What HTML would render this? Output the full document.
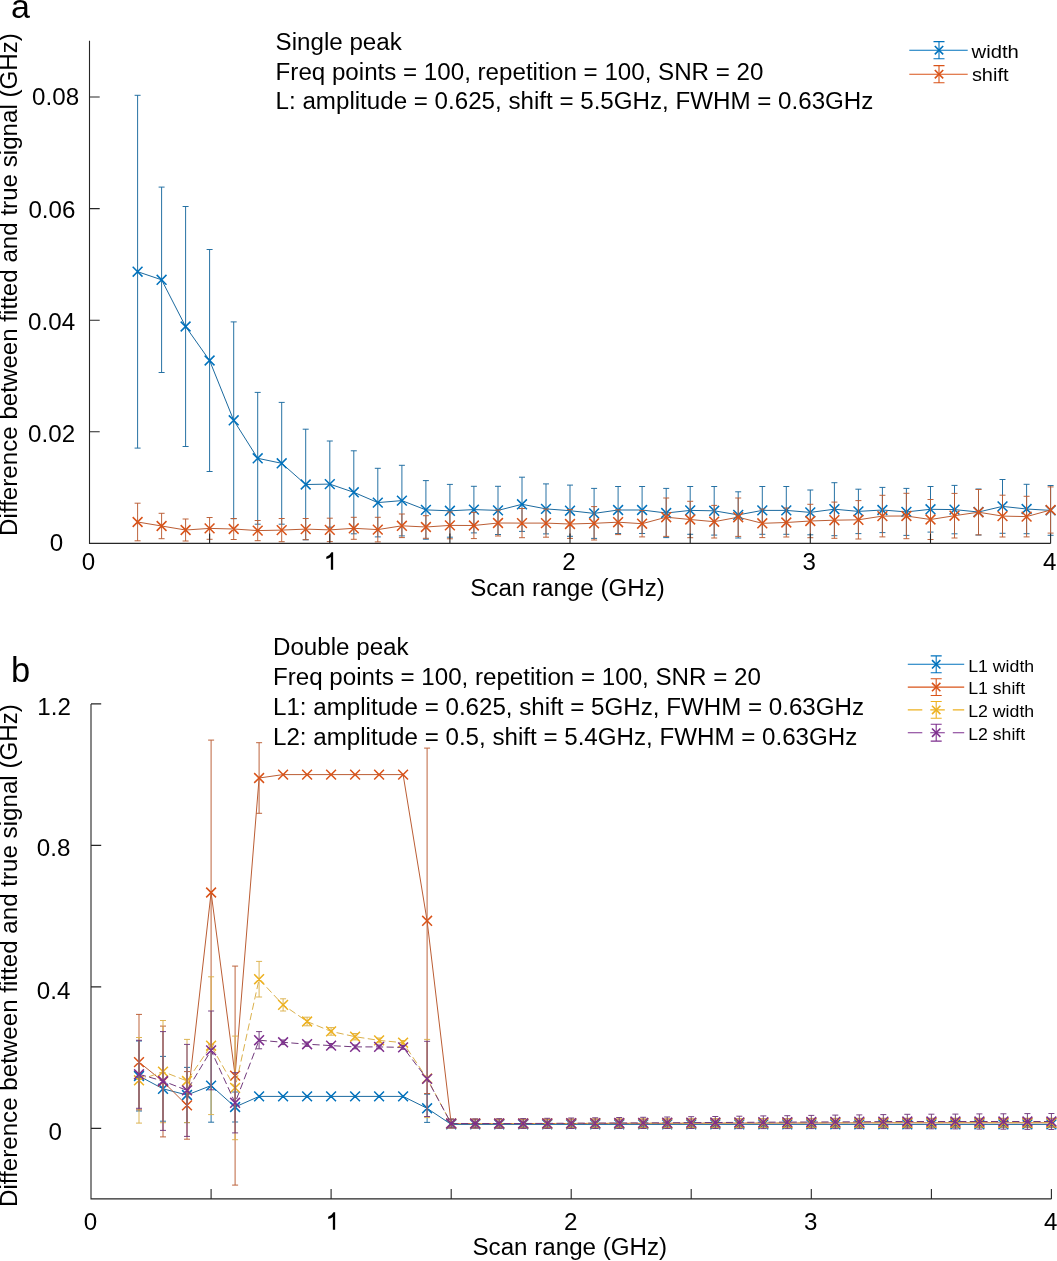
<!DOCTYPE html>
<html><head><meta charset="utf-8"><style>html,body{margin:0;padding:0;background:#fff;}svg{display:block;will-change:transform;}text{fill:#000;}</style></head><body>
<svg width="1057" height="1261" viewBox="0 0 1057 1261" font-family="Liberation Sans, sans-serif">
<rect width="1057" height="1261" fill="#fff"/>
<path d="M137.6 95.3V448.1M134.6 95.3H140.6M134.6 448.1H140.6M161.6 187.1V372.5M158.6 187.1H164.6M158.6 372.5H164.6M185.6 206.5V446.5M182.6 206.5H188.6M182.6 446.5H188.6M209.6 249.5V471.5M206.6 249.5H212.6M206.6 471.5H212.6M233.7 321.9V518.7M230.7 321.9H236.7M230.7 518.7H236.7M257.7 392.4V524.2M254.7 392.4H260.7M254.7 524.2H260.7M281.7 402.4V524.2M278.7 402.4H284.7M278.7 524.2H284.7M305.7 429.2V539.8M302.7 429.2H308.7M302.7 539.8H308.7M329.8 441.0V527.2M326.8 441.0H332.8M326.8 527.2H332.8M353.8 450.8V533.8M350.8 450.8H356.8M350.8 533.8H356.8M377.8 468.3V536.9M374.8 468.3H380.8M374.8 536.9H380.8M401.9 465.3V535.9M398.9 465.3H404.9M398.9 535.9H404.9M425.9 480.6V539.2M422.9 480.6H428.9M422.9 539.2H428.9M449.9 484.4V537.2M446.9 484.4H452.9M446.9 537.2H452.9M473.9 486.3V532.9M470.9 486.3H476.9M470.9 532.9H476.9M498.0 486.3V534.5M495.0 486.3H501.0M495.0 534.5H501.0M522.0 477.2V531.4M519.0 477.2H525.0M519.0 531.4H525.0M546.0 483.9V533.9M543.0 483.9H549.0M543.0 533.9H549.0M570.0 485.1V536.3M567.0 485.1H573.0M567.0 536.3H573.0M594.1 488.4V538.4M591.1 488.4H597.1M591.1 538.4H597.1M618.1 486.5V533.5M615.1 486.5H621.1M615.1 533.5H621.1M642.1 486.5V533.5M639.1 486.5H645.1M639.1 533.5H645.1M666.2 488.4V537.6M663.2 488.4H669.2M663.2 537.6H669.2M690.2 486.5V534.3M687.2 486.5H693.2M687.2 534.3H693.2M714.2 486.5V535.1M711.2 486.5H717.2M711.2 535.1H717.2M738.2 491.8V538.0M735.2 491.8H741.2M735.2 538.0H741.2M762.3 486.5V534.3M759.3 486.5H765.3M759.3 534.3H765.3M786.3 486.5V534.3M783.3 486.5H789.3M783.3 534.3H789.3M810.3 490.0V534.8M807.3 490.0H813.3M807.3 534.8H813.3M834.4 482.7V535.7M831.4 482.7H837.4M831.4 535.7H837.4M858.4 489.2V533.6M855.4 489.2H861.4M855.4 533.6H861.4M882.4 487.4V532.6M879.4 487.4H885.4M879.4 532.6H885.4M906.4 488.4V535.4M903.4 488.4H909.4M903.4 535.4H909.4M930.5 486.5V532.1M927.5 486.5H933.5M927.5 532.1H933.5M954.5 485.4V533.8M951.5 485.4H957.5M951.5 533.8H957.5M978.5 489.0V535.0M975.5 489.0H981.5M975.5 535.0H981.5M1002.5 479.5V533.3M999.5 479.5H1005.5M999.5 533.3H1005.5M1026.6 484.3V533.7M1023.6 484.3H1029.6M1023.6 533.7H1029.6M1050.6 485.5V535.3M1047.6 485.5H1053.6M1047.6 535.3H1053.6" stroke="#1B6A9F" stroke-width="0.95" fill="none"/>
<path d="M137.6 271.7 L161.6 279.8 L185.6 326.5 L209.6 360.5 L233.7 420.3 L257.7 458.3 L281.7 463.3 L305.7 484.5 L329.8 484.1 L353.8 492.3 L377.8 502.6 L401.9 500.6 L425.9 509.9 L449.9 510.8 L473.9 509.6 L498.0 510.4 L522.0 504.3 L546.0 508.9 L570.0 510.7 L594.1 513.4 L618.1 510.0 L642.1 510.0 L666.2 513.0 L690.2 510.4 L714.2 510.8 L738.2 514.9 L762.3 510.4 L786.3 510.4 L810.3 512.4 L834.4 509.2 L858.4 511.4 L882.4 510.0 L906.4 511.9 L930.5 509.3 L954.5 509.6 L978.5 512.0 L1002.5 506.4 L1026.6 509.0 L1050.6 510.4" stroke="#1B6A9F" stroke-width="1.0" fill="none"/>
<path d="M132.7 266.8L142.5 276.6M132.7 276.6L142.5 266.8M156.7 274.9L166.5 284.7M156.7 284.7L166.5 274.9M180.7 321.6L190.5 331.4M180.7 331.4L190.5 321.6M204.7 355.6L214.5 365.4M204.7 365.4L214.5 355.6M228.8 415.4L238.6 425.2M228.8 425.2L238.6 415.4M252.8 453.4L262.6 463.2M252.8 463.2L262.6 453.4M276.8 458.4L286.6 468.2M276.8 468.2L286.6 458.4M300.8 479.6L310.6 489.4M300.8 489.4L310.6 479.6M324.9 479.2L334.7 489.0M324.9 489.0L334.7 479.2M348.9 487.4L358.7 497.2M348.9 497.2L358.7 487.4M372.9 497.7L382.7 507.5M372.9 507.5L382.7 497.7M397.0 495.7L406.8 505.5M397.0 505.5L406.8 495.7M421.0 505.0L430.8 514.8M421.0 514.8L430.8 505.0M445.0 505.9L454.8 515.7M445.0 515.7L454.8 505.9M469.0 504.7L478.8 514.5M469.0 514.5L478.8 504.7M493.1 505.5L502.9 515.3M493.1 515.3L502.9 505.5M517.1 499.4L526.9 509.2M517.1 509.2L526.9 499.4M541.1 504.0L550.9 513.8M541.1 513.8L550.9 504.0M565.1 505.8L574.9 515.6M565.1 515.6L574.9 505.8M589.2 508.5L599.0 518.3M589.2 518.3L599.0 508.5M613.2 505.1L623.0 514.9M613.2 514.9L623.0 505.1M637.2 505.1L647.0 514.9M637.2 514.9L647.0 505.1M661.3 508.1L671.1 517.9M661.3 517.9L671.1 508.1M685.3 505.5L695.1 515.3M685.3 515.3L695.1 505.5M709.3 505.9L719.1 515.7M709.3 515.7L719.1 505.9M733.3 510.0L743.1 519.8M733.3 519.8L743.1 510.0M757.4 505.5L767.2 515.3M757.4 515.3L767.2 505.5M781.4 505.5L791.2 515.3M781.4 515.3L791.2 505.5M805.4 507.5L815.2 517.3M805.4 517.3L815.2 507.5M829.5 504.3L839.3 514.1M829.5 514.1L839.3 504.3M853.5 506.5L863.3 516.3M853.5 516.3L863.3 506.5M877.5 505.1L887.3 514.9M877.5 514.9L887.3 505.1M901.5 507.0L911.3 516.8M901.5 516.8L911.3 507.0M925.6 504.4L935.4 514.2M925.6 514.2L935.4 504.4M949.6 504.7L959.4 514.5M949.6 514.5L959.4 504.7M973.6 507.1L983.4 516.9M973.6 516.9L983.4 507.1M997.6 501.5L1007.4 511.3M997.6 511.3L1007.4 501.5M1021.7 504.1L1031.5 513.9M1021.7 513.9L1031.5 504.1M1045.7 505.5L1055.5 515.3M1045.7 515.3L1055.5 505.5" stroke="#0072BD" stroke-width="1.5" fill="none"/>
<path d="M137.6 503.2V540.8M134.6 503.2H140.6M134.6 540.8H140.6M161.6 513.3V538.7M158.6 513.3H164.6M158.6 538.7H164.6M185.6 519.0V541.0M182.6 519.0H188.6M182.6 541.0H188.6M209.6 517.5V539.3M206.6 517.5H212.6M206.6 539.3H212.6M233.7 518.5V539.5M230.7 518.5H236.7M230.7 539.5H236.7M257.7 520.5V540.7M254.7 520.5H260.7M254.7 540.7H260.7M281.7 518.5V541.7M278.7 518.5H284.7M278.7 541.7H284.7M305.7 518.5V539.7M302.7 518.5H308.7M302.7 539.7H308.7M329.8 518.2V541.6M326.8 518.2H332.8M326.8 541.6H332.8M353.8 517.3V539.3M350.8 517.3H356.8M350.8 539.3H356.8M377.8 517.3V541.9M374.8 517.3H380.8M374.8 541.9H380.8M401.9 514.0V537.6M398.9 514.0H404.9M398.9 537.6H404.9M425.9 515.7V538.3M422.9 515.7H428.9M422.9 538.3H428.9M449.9 512.0V538.8M446.9 512.0H452.9M446.9 538.8H452.9M473.9 512.4V538.6M470.9 512.4H476.9M470.9 538.6H476.9M498.0 510.0V536.0M495.0 510.0H501.0M495.0 536.0H501.0M522.0 508.5V537.7M519.0 508.5H525.0M519.0 537.7H525.0M546.0 509.0V537.2M543.0 509.0H549.0M543.0 537.2H549.0M570.0 509.6V538.4M567.0 509.6H573.0M567.0 538.4H573.0M594.1 506.6V540.0M591.1 506.6H597.1M591.1 540.0H597.1M618.1 509.8V534.6M615.1 509.8H621.1M615.1 534.6H621.1M642.1 510.5V536.9M639.1 510.5H645.1M639.1 536.9H645.1M666.2 498.0V536.4M663.2 498.0H669.2M663.2 536.4H669.2M690.2 501.3V537.7M687.2 501.3H693.2M687.2 537.7H693.2M714.2 505.4V538.0M711.2 505.4H717.2M711.2 538.0H717.2M738.2 498.0V536.4M735.2 498.0H741.2M735.2 536.4H741.2M762.3 509.0V537.6M759.3 509.0H765.3M759.3 537.6H765.3M786.3 508.0V537.0M783.3 508.0H789.3M783.3 537.0H789.3M810.3 504.3V537.7M807.3 504.3H813.3M807.3 537.7H813.3M834.4 502.1V538.3M831.4 502.1H837.4M831.4 538.3H837.4M858.4 500.6V539.0M855.4 500.6H861.4M855.4 539.0H861.4M882.4 495.3V536.9M879.4 495.3H885.4M879.4 536.9H885.4M906.4 493.3V538.7M903.4 493.3H909.4M903.4 538.7H909.4M930.5 499.5V539.5M927.5 499.5H933.5M927.5 539.5H933.5M954.5 493.4V538.0M951.5 493.4H957.5M951.5 538.0H957.5M978.5 489.5V534.9M975.5 489.5H981.5M975.5 534.9H981.5M1002.5 495.2V537.0M999.5 495.2H1005.5M999.5 537.0H1005.5M1026.6 496.3V536.9M1023.6 496.3H1029.6M1023.6 536.9H1029.6M1050.6 486.9V533.1M1047.6 486.9H1053.6M1047.6 533.1H1053.6" stroke="#BB5D34" stroke-width="0.95" fill="none"/>
<path d="M137.6 522.0 L161.6 526.0 L185.6 530.0 L209.6 528.4 L233.7 529.0 L257.7 530.6 L281.7 530.1 L305.7 529.1 L329.8 529.9 L353.8 528.3 L377.8 529.6 L401.9 525.8 L425.9 527.0 L449.9 525.4 L473.9 525.5 L498.0 523.0 L522.0 523.1 L546.0 523.1 L570.0 524.0 L594.1 523.3 L618.1 522.2 L642.1 523.7 L666.2 517.2 L690.2 519.5 L714.2 521.7 L738.2 517.2 L762.3 523.3 L786.3 522.5 L810.3 521.0 L834.4 520.2 L858.4 519.8 L882.4 516.1 L906.4 516.0 L930.5 519.5 L954.5 515.7 L978.5 512.2 L1002.5 516.1 L1026.6 516.6 L1050.6 510.0" stroke="#BB5D34" stroke-width="1.0" fill="none"/>
<path d="M132.7 517.1L142.5 526.9M132.7 526.9L142.5 517.1M156.7 521.1L166.5 530.9M156.7 530.9L166.5 521.1M180.7 525.1L190.5 534.9M180.7 534.9L190.5 525.1M204.7 523.5L214.5 533.3M204.7 533.3L214.5 523.5M228.8 524.1L238.6 533.9M228.8 533.9L238.6 524.1M252.8 525.7L262.6 535.5M252.8 535.5L262.6 525.7M276.8 525.2L286.6 535.0M276.8 535.0L286.6 525.2M300.8 524.2L310.6 534.0M300.8 534.0L310.6 524.2M324.9 525.0L334.7 534.8M324.9 534.8L334.7 525.0M348.9 523.4L358.7 533.2M348.9 533.2L358.7 523.4M372.9 524.7L382.7 534.5M372.9 534.5L382.7 524.7M397.0 520.9L406.8 530.7M397.0 530.7L406.8 520.9M421.0 522.1L430.8 531.9M421.0 531.9L430.8 522.1M445.0 520.5L454.8 530.3M445.0 530.3L454.8 520.5M469.0 520.6L478.8 530.4M469.0 530.4L478.8 520.6M493.1 518.1L502.9 527.9M493.1 527.9L502.9 518.1M517.1 518.2L526.9 528.0M517.1 528.0L526.9 518.2M541.1 518.2L550.9 528.0M541.1 528.0L550.9 518.2M565.1 519.1L574.9 528.9M565.1 528.9L574.9 519.1M589.2 518.4L599.0 528.2M589.2 528.2L599.0 518.4M613.2 517.3L623.0 527.1M613.2 527.1L623.0 517.3M637.2 518.8L647.0 528.6M637.2 528.6L647.0 518.8M661.3 512.3L671.1 522.1M661.3 522.1L671.1 512.3M685.3 514.6L695.1 524.4M685.3 524.4L695.1 514.6M709.3 516.8L719.1 526.6M709.3 526.6L719.1 516.8M733.3 512.3L743.1 522.1M733.3 522.1L743.1 512.3M757.4 518.4L767.2 528.2M757.4 528.2L767.2 518.4M781.4 517.6L791.2 527.4M781.4 527.4L791.2 517.6M805.4 516.1L815.2 525.9M805.4 525.9L815.2 516.1M829.5 515.3L839.3 525.1M829.5 525.1L839.3 515.3M853.5 514.9L863.3 524.7M853.5 524.7L863.3 514.9M877.5 511.2L887.3 521.0M877.5 521.0L887.3 511.2M901.5 511.1L911.3 520.9M901.5 520.9L911.3 511.1M925.6 514.6L935.4 524.4M925.6 524.4L935.4 514.6M949.6 510.8L959.4 520.6M949.6 520.6L959.4 510.8M973.6 507.3L983.4 517.1M973.6 517.1L983.4 507.3M997.6 511.2L1007.4 521.0M997.6 521.0L1007.4 511.2M1021.7 511.7L1031.5 521.5M1021.7 521.5L1031.5 511.7M1045.7 505.1L1055.5 514.9M1045.7 514.9L1055.5 505.1" stroke="#D95319" stroke-width="1.5" fill="none"/>
<path d="M89.5 40.8V543.4H1050.6M89.5 543.4V533.4M209.6 543.4V533.4M329.8 543.4V533.4M449.9 543.4V533.4M570.0 543.4V533.4M690.2 543.4V533.4M810.3 543.4V533.4M930.5 543.4V533.4M1050.6 543.4V533.4M89.5 543.4H99.7M89.5 431.8H99.7M89.5 320.2H99.7M89.5 208.6H99.7M89.5 97.0H99.7" stroke="#262626" stroke-width="1.1" fill="none"/>
<text x="32.1" y="105.3" font-size="24.15" text-anchor="start">0.08</text>
<text x="28.4" y="217.9" font-size="24.15" text-anchor="start">0.06</text>
<text x="28.1" y="329.9" font-size="24.15" text-anchor="start">0.04</text>
<text x="28.1" y="441.7" font-size="24.15" text-anchor="start">0.02</text>
<text x="49.8" y="551.2" font-size="24.15" text-anchor="start">0</text>
<text x="88.5" y="569.5" font-size="24.15" text-anchor="middle">0</text>
<path d="M333.15 552.3V569.7H330.85V557.1Q329.2 558.6 326.3 559.0V556.8Q329.5 555.9 331.5 552.3Z" fill="#000"/>
<text x="569.0" y="569.5" font-size="24.15" text-anchor="middle">2</text>
<text x="809.3" y="569.5" font-size="24.15" text-anchor="middle">3</text>
<text x="1049.6" y="569.5" font-size="24.15" text-anchor="middle">4</text>
<text x="567.5" y="595.8" font-size="24.15" text-anchor="middle">Scan range (GHz)</text>
<text transform="translate(17.35 535.9) rotate(-90)" font-size="24.15">Difference between fitted and true signal (GHz)</text>
<text x="10.9" y="18.2" font-size="34" text-anchor="start">a</text>
<text x="275.6" y="50.3" font-size="24.15" text-anchor="start">Single peak</text>
<text x="275.6" y="79.7" font-size="24.15" text-anchor="start">Freq points = 100, repetition = 100, SNR = 20</text>
<text x="275.6" y="109.1" font-size="24.15" text-anchor="start">L: amplitude = 0.625, shift = 5.5GHz, FWHM = 0.63GHz</text>
<path d="M909.3 50.2H967.7" stroke="#0072BD" stroke-width="1.1"/>
<path d="M939.00 41.60V58.80M933.50 41.60H944.50M933.50 58.80H944.50" stroke="#0072BD" stroke-width="1.1" fill="none"/>
<path d="M934.80 46.00L943.20 54.40M934.80 54.40L943.20 46.00" stroke="#0072BD" stroke-width="1.6" fill="none"/>
<path d="M909.3 74.2H967.7" stroke="#D95319" stroke-width="1.1"/>
<path d="M939.00 65.60V82.80M933.50 65.60H944.50M933.50 82.80H944.50" stroke="#D95319" stroke-width="1.1" fill="none"/>
<path d="M934.80 70.00L943.20 78.40M934.80 78.40L943.20 70.00" stroke="#D95319" stroke-width="1.6" fill="none"/>
<text x="971.6" y="57.8" font-size="18.5" textLength="47.3" lengthAdjust="spacingAndGlyphs">width</text>
<text x="971.9" y="81.4" font-size="18.5" textLength="36.6" lengthAdjust="spacingAndGlyphs">shift</text>
<path d="M139.0 1041.0V1111.0M136.0 1041.0H142.0M136.0 1111.0H142.0M163.0 1056.4V1121.2M160.0 1056.4H166.0M160.0 1121.2H166.0M187.0 1067.4V1122.6M184.0 1067.4H190.0M184.0 1122.6H190.0M211.1 1049.0V1122.2M208.1 1049.0H214.1M208.1 1122.2H214.1M235.1 1092.0V1122.0M232.1 1092.0H238.1M232.1 1122.0H238.1M427.1 1094.2V1122.4M424.1 1094.2H430.1M424.1 1122.4H430.1M451.2 1121.2V1127.6M448.2 1121.2H454.2M448.2 1127.6H454.2M475.2 1121.2V1127.6M472.2 1121.2H478.2M472.2 1127.6H478.2M499.2 1121.2V1127.6M496.2 1121.2H502.2M496.2 1127.6H502.2M523.2 1121.2V1127.6M520.2 1121.2H526.2M520.2 1127.6H526.2M547.2 1121.2V1127.6M544.2 1121.2H550.2M544.2 1127.6H550.2M571.2 1121.2V1127.6M568.2 1121.2H574.2M568.2 1127.6H574.2M595.2 1121.2V1127.6M592.2 1121.2H598.2M592.2 1127.6H598.2M619.2 1121.2V1127.6M616.2 1121.2H622.2M616.2 1127.6H622.2M643.2 1121.2V1127.6M640.2 1121.2H646.2M640.2 1127.6H646.2M667.2 1121.2V1127.6M664.2 1121.2H670.2M664.2 1127.6H670.2M691.2 1121.2V1127.6M688.2 1121.2H694.2M688.2 1127.6H694.2M715.3 1121.2V1127.6M712.3 1121.2H718.3M712.3 1127.6H718.3M739.3 1121.2V1127.6M736.3 1121.2H742.3M736.3 1127.6H742.3M763.3 1121.2V1127.6M760.3 1121.2H766.3M760.3 1127.6H766.3M787.3 1121.2V1127.6M784.3 1121.2H790.3M784.3 1127.6H790.3M811.3 1121.2V1127.6M808.3 1121.2H814.3M808.3 1127.6H814.3M835.3 1121.2V1127.6M832.3 1121.2H838.3M832.3 1127.6H838.3M859.3 1121.2V1127.6M856.3 1121.2H862.3M856.3 1127.6H862.3M883.3 1121.2V1127.6M880.3 1121.2H886.3M880.3 1127.6H886.3M907.3 1121.2V1127.6M904.3 1121.2H910.3M904.3 1127.6H910.3M931.4 1121.2V1127.6M928.4 1121.2H934.4M928.4 1127.6H934.4M955.4 1121.2V1127.6M952.4 1121.2H958.4M952.4 1127.6H958.4M979.4 1121.2V1127.6M976.4 1121.2H982.4M976.4 1127.6H982.4M1003.4 1121.2V1127.6M1000.4 1121.2H1006.4M1000.4 1127.6H1006.4M1027.4 1121.2V1127.6M1024.4 1121.2H1030.4M1024.4 1127.6H1030.4M1051.4 1121.2V1127.6M1048.4 1121.2H1054.4M1048.4 1127.6H1054.4" stroke="#1B6A9F" stroke-width="0.95" fill="none"/>
<path d="M139.0 1076.0 L163.0 1088.8 L187.0 1095.0 L211.1 1085.6 L235.1 1107.0 L259.1 1096.4 L283.1 1096.4 L307.1 1096.4 L331.1 1096.4 L355.1 1096.4 L379.1 1096.4 L403.1 1096.4 L427.1 1108.3 L451.2 1124.4 L475.2 1124.4 L499.2 1124.4 L523.2 1124.4 L547.2 1124.4 L571.2 1124.4 L595.2 1124.4 L619.2 1124.4 L643.2 1124.4 L667.2 1124.4 L691.2 1124.4 L715.3 1124.4 L739.3 1124.4 L763.3 1124.4 L787.3 1124.4 L811.3 1124.4 L835.3 1124.4 L859.3 1124.4 L883.3 1124.4 L907.3 1124.4 L931.4 1124.4 L955.4 1124.4 L979.4 1124.4 L1003.4 1124.4 L1027.4 1124.4 L1051.4 1124.4" stroke="#1B6A9F" stroke-width="1.0" fill="none"/>
<path d="M134.1 1071.1L143.9 1080.9M134.1 1080.9L143.9 1071.1M158.1 1083.9L167.9 1093.7M158.1 1093.7L167.9 1083.9M182.1 1090.1L191.9 1099.9M182.1 1099.9L191.9 1090.1M206.2 1080.7L216.0 1090.5M206.2 1090.5L216.0 1080.7M230.2 1102.1L240.0 1111.9M230.2 1111.9L240.0 1102.1M254.2 1091.5L264.0 1101.3M254.2 1101.3L264.0 1091.5M278.2 1091.5L288.0 1101.3M278.2 1101.3L288.0 1091.5M302.2 1091.5L312.0 1101.3M302.2 1101.3L312.0 1091.5M326.2 1091.5L336.0 1101.3M326.2 1101.3L336.0 1091.5M350.2 1091.5L360.0 1101.3M350.2 1101.3L360.0 1091.5M374.2 1091.5L384.0 1101.3M374.2 1101.3L384.0 1091.5M398.2 1091.5L408.0 1101.3M398.2 1101.3L408.0 1091.5M422.2 1103.4L432.0 1113.2M422.2 1113.2L432.0 1103.4M446.3 1119.5L456.1 1129.3M446.3 1129.3L456.1 1119.5M470.3 1119.5L480.1 1129.3M470.3 1129.3L480.1 1119.5M494.3 1119.5L504.1 1129.3M494.3 1129.3L504.1 1119.5M518.3 1119.5L528.1 1129.3M518.3 1129.3L528.1 1119.5M542.3 1119.5L552.1 1129.3M542.3 1129.3L552.1 1119.5M566.3 1119.5L576.1 1129.3M566.3 1129.3L576.1 1119.5M590.3 1119.5L600.1 1129.3M590.3 1129.3L600.1 1119.5M614.3 1119.5L624.1 1129.3M614.3 1129.3L624.1 1119.5M638.3 1119.5L648.1 1129.3M638.3 1129.3L648.1 1119.5M662.3 1119.5L672.1 1129.3M662.3 1129.3L672.1 1119.5M686.4 1119.5L696.1 1129.3M686.4 1129.3L696.1 1119.5M710.4 1119.5L720.2 1129.3M710.4 1129.3L720.2 1119.5M734.4 1119.5L744.2 1129.3M734.4 1129.3L744.2 1119.5M758.4 1119.5L768.2 1129.3M758.4 1129.3L768.2 1119.5M782.4 1119.5L792.2 1129.3M782.4 1129.3L792.2 1119.5M806.4 1119.5L816.2 1129.3M806.4 1129.3L816.2 1119.5M830.4 1119.5L840.2 1129.3M830.4 1129.3L840.2 1119.5M854.4 1119.5L864.2 1129.3M854.4 1129.3L864.2 1119.5M878.4 1119.5L888.2 1129.3M878.4 1129.3L888.2 1119.5M902.4 1119.5L912.2 1129.3M902.4 1129.3L912.2 1119.5M926.5 1119.5L936.3 1129.3M926.5 1129.3L936.3 1119.5M950.5 1119.5L960.3 1129.3M950.5 1129.3L960.3 1119.5M974.5 1119.5L984.3 1129.3M974.5 1129.3L984.3 1119.5M998.5 1119.5L1008.3 1129.3M998.5 1129.3L1008.3 1119.5M1022.5 1119.5L1032.3 1129.3M1022.5 1129.3L1032.3 1119.5M1046.5 1119.5L1056.3 1129.3M1046.5 1129.3L1056.3 1119.5" stroke="#0072BD" stroke-width="1.5" fill="none"/>
<path d="M139.0 1014.4V1109.8M136.0 1014.4H142.0M136.0 1109.8H142.0M163.0 1026.1V1136.9M160.0 1026.1H166.0M160.0 1136.9H166.0M187.0 1071.6V1139.2M184.0 1071.6H190.0M184.0 1139.2H190.0M211.1 740.1V1044.9M208.1 740.1H214.1M208.1 1044.9H214.1M235.1 966.1V1185.1M232.1 966.1H238.1M232.1 1185.1H238.1M259.1 742.7V813.3M256.1 742.7H262.1M256.1 813.3H262.1M427.1 748.1V1093.5M424.1 748.1H430.1M424.1 1093.5H430.1M451.2 1119.4V1127.8M448.2 1119.4H454.2M448.2 1127.8H454.2M475.2 1119.4V1127.8M472.2 1119.4H478.2M472.2 1127.8H478.2M499.2 1119.4V1127.8M496.2 1119.4H502.2M496.2 1127.8H502.2M523.2 1119.4V1127.8M520.2 1119.4H526.2M520.2 1127.8H526.2M547.2 1119.4V1127.7M544.2 1119.4H550.2M544.2 1127.7H550.2M571.2 1119.3V1127.7M568.2 1119.3H574.2M568.2 1127.7H574.2M595.2 1119.2V1127.6M592.2 1119.2H598.2M592.2 1127.6H598.2M619.2 1119.2V1127.6M616.2 1119.2H622.2M616.2 1127.6H622.2M643.2 1119.2V1127.5M640.2 1119.2H646.2M640.2 1127.5H646.2M667.2 1119.1V1127.5M664.2 1119.1H670.2M664.2 1127.5H670.2M691.2 1119.1V1127.4M688.2 1119.1H694.2M688.2 1127.4H694.2M715.3 1119.0V1127.4M712.3 1119.0H718.3M712.3 1127.4H718.3M739.3 1119.0V1127.3M736.3 1119.0H742.3M736.3 1127.3H742.3M763.3 1118.9V1127.3M760.3 1118.9H766.3M760.3 1127.3H766.3M787.3 1118.9V1127.2M784.3 1118.9H790.3M784.3 1127.2H790.3M811.3 1118.8V1127.2M808.3 1118.8H814.3M808.3 1127.2H814.3M835.3 1118.8V1127.1M832.3 1118.8H838.3M832.3 1127.1H838.3M859.3 1118.7V1127.1M856.3 1118.7H862.3M856.3 1127.1H862.3M883.3 1118.7V1127.0M880.3 1118.7H886.3M880.3 1127.0H886.3M907.3 1118.6V1127.0M904.3 1118.6H910.3M904.3 1127.0H910.3M931.4 1118.6V1127.0M928.4 1118.6H934.4M928.4 1127.0H934.4M955.4 1118.6V1127.0M952.4 1118.6H958.4M952.4 1127.0H958.4M979.4 1118.6V1127.0M976.4 1118.6H982.4M976.4 1127.0H982.4M1003.4 1118.6V1127.0M1000.4 1118.6H1006.4M1000.4 1127.0H1006.4M1027.4 1118.6V1127.0M1024.4 1118.6H1030.4M1024.4 1127.0H1030.4M1051.4 1118.6V1127.0M1048.4 1118.6H1054.4M1048.4 1127.0H1054.4" stroke="#BB5D34" stroke-width="0.95" fill="none"/>
<path d="M139.0 1062.1 L163.0 1081.5 L187.0 1105.4 L211.1 892.5 L235.1 1075.6 L259.1 778.0 L283.1 774.6 L307.1 774.6 L331.1 774.6 L355.1 774.6 L379.1 774.6 L403.1 774.6 L427.1 920.8 L451.2 1123.6 L475.2 1123.6 L499.2 1123.6 L523.2 1123.6 L547.2 1123.5 L571.2 1123.5 L595.2 1123.4 L619.2 1123.4 L643.2 1123.3 L667.2 1123.3 L691.2 1123.2 L715.3 1123.2 L739.3 1123.1 L763.3 1123.1 L787.3 1123.0 L811.3 1123.0 L835.3 1122.9 L859.3 1122.9 L883.3 1122.8 L907.3 1122.8 L931.4 1122.8 L955.4 1122.8 L979.4 1122.8 L1003.4 1122.8 L1027.4 1122.8 L1051.4 1122.8" stroke="#BB5D34" stroke-width="1.0" fill="none"/>
<path d="M134.1 1057.2L143.9 1067.0M134.1 1067.0L143.9 1057.2M158.1 1076.6L167.9 1086.4M158.1 1086.4L167.9 1076.6M182.1 1100.5L191.9 1110.3M182.1 1110.3L191.9 1100.5M206.2 887.6L216.0 897.4M206.2 897.4L216.0 887.6M230.2 1070.7L240.0 1080.5M230.2 1080.5L240.0 1070.7M254.2 773.1L264.0 782.9M254.2 782.9L264.0 773.1M278.2 769.7L288.0 779.5M278.2 779.5L288.0 769.7M302.2 769.7L312.0 779.5M302.2 779.5L312.0 769.7M326.2 769.7L336.0 779.5M326.2 779.5L336.0 769.7M350.2 769.7L360.0 779.5M350.2 779.5L360.0 769.7M374.2 769.7L384.0 779.5M374.2 779.5L384.0 769.7M398.2 769.7L408.0 779.5M398.2 779.5L408.0 769.7M422.2 915.9L432.0 925.7M422.2 925.7L432.0 915.9M446.3 1118.7L456.1 1128.5M446.3 1128.5L456.1 1118.7M470.3 1118.7L480.1 1128.5M470.3 1128.5L480.1 1118.7M494.3 1118.7L504.1 1128.5M494.3 1128.5L504.1 1118.7M518.3 1118.7L528.1 1128.5M518.3 1128.5L528.1 1118.7M542.3 1118.6L552.1 1128.5M542.3 1128.5L552.1 1118.6M566.3 1118.6L576.1 1128.4M566.3 1128.4L576.1 1118.6M590.3 1118.5L600.1 1128.3M590.3 1128.3L600.1 1118.5M614.3 1118.5L624.1 1128.3M614.3 1128.3L624.1 1118.5M638.3 1118.4L648.1 1128.2M638.3 1128.2L648.1 1118.4M662.3 1118.4L672.1 1128.2M662.3 1128.2L672.1 1118.4M686.4 1118.3L696.1 1128.2M686.4 1128.2L696.1 1118.3M710.4 1118.3L720.2 1128.1M710.4 1128.1L720.2 1118.3M734.4 1118.2L744.2 1128.0M734.4 1128.0L744.2 1118.2M758.4 1118.2L768.2 1128.0M758.4 1128.0L768.2 1118.2M782.4 1118.1L792.2 1128.0M782.4 1128.0L792.2 1118.1M806.4 1118.1L816.2 1127.9M806.4 1127.9L816.2 1118.1M830.4 1118.0L840.2 1127.8M830.4 1127.8L840.2 1118.0M854.4 1118.0L864.2 1127.8M854.4 1127.8L864.2 1118.0M878.4 1117.9L888.2 1127.8M878.4 1127.8L888.2 1117.9M902.4 1117.9L912.2 1127.7M902.4 1127.7L912.2 1117.9M926.5 1117.9L936.3 1127.7M926.5 1127.7L936.3 1117.9M950.5 1117.9L960.3 1127.7M950.5 1127.7L960.3 1117.9M974.5 1117.9L984.3 1127.7M974.5 1127.7L984.3 1117.9M998.5 1117.9L1008.3 1127.7M998.5 1127.7L1008.3 1117.9M1022.5 1117.9L1032.3 1127.7M1022.5 1127.7L1032.3 1117.9M1046.5 1117.9L1056.3 1127.7M1046.5 1127.7L1056.3 1117.9" stroke="#D95319" stroke-width="1.5" fill="none"/>
<path d="M139.0 1037.5V1123.1M136.0 1037.5H142.0M136.0 1123.1H142.0M163.0 1020.5V1122.7M160.0 1020.5H166.0M160.0 1122.7H166.0M187.0 1039.4V1122.6M184.0 1039.4H190.0M184.0 1122.6H190.0M211.1 976.8V1114.6M208.1 976.8H214.1M208.1 1114.6H214.1M235.1 1036.1V1139.7M232.1 1036.1H238.1M232.1 1139.7H238.1M259.1 961.4V997.0M256.1 961.4H262.1M256.1 997.0H262.1M283.1 998.8V1011.0M280.1 998.8H286.1M280.1 1011.0H286.1M307.1 1017.2V1025.8M304.1 1017.2H310.1M304.1 1025.8H310.1M331.1 1027.6V1035.2M328.1 1027.6H334.1M328.1 1035.2H334.1M355.1 1033.5V1039.9M352.1 1033.5H358.1M352.1 1039.9H358.1M379.1 1038.0V1042.8M376.1 1038.0H382.1M376.1 1042.8H382.1M403.1 1040.5V1044.9M400.1 1040.5H406.1M400.1 1044.9H406.1M427.1 1039.4V1117.6M424.1 1039.4H430.1M424.1 1117.6H430.1M451.2 1119.0V1128.0M448.2 1119.0H454.2M448.2 1128.0H454.2M475.2 1119.0V1128.0M472.2 1119.0H478.2M472.2 1128.0H478.2M499.2 1119.0V1128.0M496.2 1119.0H502.2M496.2 1128.0H502.2M523.2 1119.0V1128.0M520.2 1119.0H526.2M520.2 1128.0H526.2M547.2 1119.0V1128.0M544.2 1119.0H550.2M544.2 1128.0H550.2M571.2 1118.9V1127.9M568.2 1118.9H574.2M568.2 1127.9H574.2M595.2 1118.8V1127.8M592.2 1118.8H598.2M592.2 1127.8H598.2M619.2 1118.8V1127.8M616.2 1118.8H622.2M616.2 1127.8H622.2M643.2 1118.8V1127.8M640.2 1118.8H646.2M640.2 1127.8H646.2M667.2 1118.7V1127.7M664.2 1118.7H670.2M664.2 1127.7H670.2M691.2 1118.7V1127.7M688.2 1118.7H694.2M688.2 1127.7H694.2M715.3 1118.6V1127.6M712.3 1118.6H718.3M712.3 1127.6H718.3M739.3 1118.5V1127.5M736.3 1118.5H742.3M736.3 1127.5H742.3M763.3 1118.5V1127.5M760.3 1118.5H766.3M760.3 1127.5H766.3M787.3 1118.5V1127.5M784.3 1118.5H790.3M784.3 1127.5H790.3M811.3 1118.4V1127.4M808.3 1118.4H814.3M808.3 1127.4H814.3M835.3 1118.3V1127.3M832.3 1118.3H838.3M832.3 1127.3H838.3M859.3 1118.3V1127.3M856.3 1118.3H862.3M856.3 1127.3H862.3M883.3 1118.2V1127.2M880.3 1118.2H886.3M880.3 1127.2H886.3M907.3 1118.2V1127.2M904.3 1118.2H910.3M904.3 1127.2H910.3M931.4 1118.2V1127.2M928.4 1118.2H934.4M928.4 1127.2H934.4M955.4 1118.2V1127.2M952.4 1118.2H958.4M952.4 1127.2H958.4M979.4 1118.2V1127.2M976.4 1118.2H982.4M976.4 1127.2H982.4M1003.4 1118.2V1127.2M1000.4 1118.2H1006.4M1000.4 1127.2H1006.4M1027.4 1118.2V1127.2M1024.4 1118.2H1030.4M1024.4 1127.2H1030.4M1051.4 1118.2V1127.2M1048.4 1118.2H1054.4M1048.4 1127.2H1054.4" stroke="#DBB14C" stroke-width="0.95" fill="none"/>
<path d="M139.0 1080.3 L163.0 1071.6 L187.0 1081.0 L211.1 1045.7 L235.1 1087.9 L259.1 979.2 L283.1 1004.9 L307.1 1021.5 L331.1 1031.4 L355.1 1036.7 L379.1 1040.4 L403.1 1042.7 L427.1 1078.5 L451.2 1123.5 L475.2 1123.5 L499.2 1123.5 L523.2 1123.5 L547.2 1123.5 L571.2 1123.4 L595.2 1123.3 L619.2 1123.3 L643.2 1123.2 L667.2 1123.2 L691.2 1123.2 L715.3 1123.1 L739.3 1123.0 L763.3 1123.0 L787.3 1123.0 L811.3 1122.9 L835.3 1122.8 L859.3 1122.8 L883.3 1122.8 L907.3 1122.7 L931.4 1122.7 L955.4 1122.7 L979.4 1122.7 L1003.4 1122.7 L1027.4 1122.7 L1051.4 1122.7" stroke="#DBB14C" stroke-width="1.0" fill="none" stroke-dasharray="7.2 3.4"/>
<path d="M134.1 1075.4L143.9 1085.2M134.1 1085.2L143.9 1075.4M158.1 1066.7L167.9 1076.5M158.1 1076.5L167.9 1066.7M182.1 1076.1L191.9 1085.9M182.1 1085.9L191.9 1076.1M206.2 1040.8L216.0 1050.6M206.2 1050.6L216.0 1040.8M230.2 1083.0L240.0 1092.8M230.2 1092.8L240.0 1083.0M254.2 974.3L264.0 984.1M254.2 984.1L264.0 974.3M278.2 1000.0L288.0 1009.8M278.2 1009.8L288.0 1000.0M302.2 1016.6L312.0 1026.4M302.2 1026.4L312.0 1016.6M326.2 1026.5L336.0 1036.3M326.2 1036.3L336.0 1026.5M350.2 1031.8L360.0 1041.6M350.2 1041.6L360.0 1031.8M374.2 1035.5L384.0 1045.3M374.2 1045.3L384.0 1035.5M398.2 1037.8L408.0 1047.6M398.2 1047.6L408.0 1037.8M422.2 1073.6L432.0 1083.4M422.2 1083.4L432.0 1073.6M446.3 1118.6L456.1 1128.4M446.3 1128.4L456.1 1118.6M470.3 1118.6L480.1 1128.4M470.3 1128.4L480.1 1118.6M494.3 1118.6L504.1 1128.4M494.3 1128.4L504.1 1118.6M518.3 1118.6L528.1 1128.4M518.3 1128.4L528.1 1118.6M542.3 1118.5L552.1 1128.4M542.3 1128.4L552.1 1118.5M566.3 1118.5L576.1 1128.3M566.3 1128.3L576.1 1118.5M590.3 1118.4L600.1 1128.2M590.3 1128.2L600.1 1118.4M614.3 1118.4L624.1 1128.2M614.3 1128.2L624.1 1118.4M638.3 1118.3L648.1 1128.2M638.3 1128.2L648.1 1118.3M662.3 1118.3L672.1 1128.1M662.3 1128.1L672.1 1118.3M686.4 1118.2L696.1 1128.1M686.4 1128.1L696.1 1118.2M710.4 1118.2L720.2 1128.0M710.4 1128.0L720.2 1118.2M734.4 1118.1L744.2 1128.0M734.4 1128.0L744.2 1118.1M758.4 1118.1L768.2 1127.9M758.4 1127.9L768.2 1118.1M782.4 1118.0L792.2 1127.9M782.4 1127.9L792.2 1118.0M806.4 1118.0L816.2 1127.8M806.4 1127.8L816.2 1118.0M830.4 1117.9L840.2 1127.8M830.4 1127.8L840.2 1117.9M854.4 1117.9L864.2 1127.7M854.4 1127.7L864.2 1117.9M878.4 1117.8L888.2 1127.7M878.4 1127.7L888.2 1117.8M902.4 1117.8L912.2 1127.6M902.4 1127.6L912.2 1117.8M926.5 1117.8L936.3 1127.6M926.5 1127.6L936.3 1117.8M950.5 1117.8L960.3 1127.6M950.5 1127.6L960.3 1117.8M974.5 1117.8L984.3 1127.6M974.5 1127.6L984.3 1117.8M998.5 1117.8L1008.3 1127.6M998.5 1127.6L1008.3 1117.8M1022.5 1117.8L1032.3 1127.6M1022.5 1127.6L1032.3 1117.8M1046.5 1117.8L1056.3 1127.6M1046.5 1127.6L1056.3 1117.8" stroke="#EDB120" stroke-width="1.5" fill="none"/>
<path d="M139.0 1040.3V1108.3M136.0 1040.3H142.0M136.0 1108.3H142.0M163.0 1031.6V1130.4M160.0 1031.6H166.0M160.0 1130.4H166.0M187.0 1044.4V1136.4M184.0 1044.4H190.0M184.0 1136.4H190.0M211.1 1011.0V1089.8M208.1 1011.0H214.1M208.1 1089.8H214.1M235.1 1072.7V1132.9M232.1 1072.7H238.1M232.1 1132.9H238.1M259.1 1031.6V1048.8M256.1 1031.6H262.1M256.1 1048.8H262.1M283.1 1040.0V1044.6M280.1 1040.0H286.1M280.1 1044.6H286.1M307.1 1042.0V1046.4M304.1 1042.0H310.1M304.1 1046.4H310.1M331.1 1043.5V1047.7M328.1 1043.5H334.1M328.1 1047.7H334.1M355.1 1045.0V1048.8M352.1 1045.0H358.1M352.1 1048.8H358.1M379.1 1045.0V1048.8M376.1 1045.0H382.1M376.1 1048.8H382.1M403.1 1045.5V1049.3M400.1 1045.5H406.1M400.1 1049.3H406.1M427.1 1041.3V1116.5M424.1 1041.3H430.1M424.1 1116.5H430.1M451.2 1119.0V1128.0M448.2 1119.0H454.2M448.2 1128.0H454.2M475.2 1118.9V1128.1M472.2 1118.9H478.2M472.2 1128.1H478.2M499.2 1118.7V1128.3M496.2 1118.7H502.2M496.2 1128.3H502.2M523.2 1118.6V1128.4M520.2 1118.6H526.2M520.2 1128.4H526.2M547.2 1118.3V1128.4M544.2 1118.3H550.2M544.2 1128.4H550.2M571.2 1118.0V1128.5M568.2 1118.0H574.2M568.2 1128.5H574.2M595.2 1117.8V1128.5M592.2 1117.8H598.2M592.2 1128.5H598.2M619.2 1117.5V1128.5M616.2 1117.5H622.2M616.2 1128.5H622.2M643.2 1117.3V1128.5M640.2 1117.3H646.2M640.2 1128.5H646.2M667.2 1117.0V1128.5M664.2 1117.0H670.2M664.2 1128.5H670.2M691.2 1116.7V1128.5M688.2 1116.7H694.2M688.2 1128.5H694.2M715.3 1116.5V1128.5M712.3 1116.5H718.3M712.3 1128.5H718.3M739.3 1116.2V1128.6M736.3 1116.2H742.3M736.3 1128.6H742.3M763.3 1115.9V1128.6M760.3 1115.9H766.3M760.3 1128.6H766.3M787.3 1115.7V1128.6M784.3 1115.7H790.3M784.3 1128.6H790.3M811.3 1115.4V1128.6M808.3 1115.4H814.3M808.3 1128.6H814.3M835.3 1115.1V1128.6M832.3 1115.1H838.3M832.3 1128.6H838.3M859.3 1114.9V1128.6M856.3 1114.9H862.3M856.3 1128.6H862.3M883.3 1114.6V1128.6M880.3 1114.6H886.3M880.3 1128.6H886.3M907.3 1114.3V1128.7M904.3 1114.3H910.3M904.3 1128.7H910.3M931.4 1114.2V1128.8M928.4 1114.2H934.4M928.4 1128.8H934.4M955.4 1114.1V1128.9M952.4 1114.1H958.4M952.4 1128.9H958.4M979.4 1113.9V1129.1M976.4 1113.9H982.4M976.4 1129.1H982.4M1003.4 1113.8V1129.2M1000.4 1113.8H1006.4M1000.4 1129.2H1006.4M1027.4 1113.6V1129.4M1024.4 1113.6H1030.4M1024.4 1129.4H1030.4M1051.4 1113.5V1129.5M1048.4 1113.5H1054.4M1048.4 1129.5H1054.4" stroke="#71397C" stroke-width="0.95" fill="none"/>
<path d="M139.0 1074.3 L163.0 1081.0 L187.0 1090.4 L211.1 1050.4 L235.1 1102.8 L259.1 1040.2 L283.1 1042.3 L307.1 1044.2 L331.1 1045.6 L355.1 1046.9 L379.1 1046.9 L403.1 1047.4 L427.1 1078.9 L451.2 1123.5 L475.2 1123.5 L499.2 1123.5 L523.2 1123.5 L547.2 1123.4 L571.2 1123.2 L595.2 1123.1 L619.2 1123.0 L643.2 1122.9 L667.2 1122.8 L691.2 1122.6 L715.3 1122.5 L739.3 1122.4 L763.3 1122.2 L787.3 1122.1 L811.3 1122.0 L835.3 1121.9 L859.3 1121.8 L883.3 1121.6 L907.3 1121.5 L931.4 1121.5 L955.4 1121.5 L979.4 1121.5 L1003.4 1121.5 L1027.4 1121.5 L1051.4 1121.5" stroke="#71397C" stroke-width="1.0" fill="none" stroke-dasharray="7.2 3.4"/>
<path d="M134.1 1069.4L143.9 1079.2M134.1 1079.2L143.9 1069.4M158.1 1076.1L167.9 1085.9M158.1 1085.9L167.9 1076.1M182.1 1085.5L191.9 1095.3M182.1 1095.3L191.9 1085.5M206.2 1045.5L216.0 1055.3M206.2 1055.3L216.0 1045.5M230.2 1097.9L240.0 1107.7M230.2 1107.7L240.0 1097.9M254.2 1035.3L264.0 1045.1M254.2 1045.1L264.0 1035.3M278.2 1037.4L288.0 1047.2M278.2 1047.2L288.0 1037.4M302.2 1039.3L312.0 1049.1M302.2 1049.1L312.0 1039.3M326.2 1040.7L336.0 1050.5M326.2 1050.5L336.0 1040.7M350.2 1042.0L360.0 1051.8M350.2 1051.8L360.0 1042.0M374.2 1042.0L384.0 1051.8M374.2 1051.8L384.0 1042.0M398.2 1042.5L408.0 1052.3M398.2 1052.3L408.0 1042.5M422.2 1074.0L432.0 1083.8M422.2 1083.8L432.0 1074.0M446.3 1118.6L456.1 1128.4M446.3 1128.4L456.1 1118.6M470.3 1118.6L480.1 1128.4M470.3 1128.4L480.1 1118.6M494.3 1118.6L504.1 1128.4M494.3 1128.4L504.1 1118.6M518.3 1118.6L528.1 1128.4M518.3 1128.4L528.1 1118.6M542.3 1118.5L552.1 1128.3M542.3 1128.3L552.1 1118.5M566.3 1118.3L576.1 1128.2M566.3 1128.2L576.1 1118.3M590.3 1118.2L600.1 1128.0M590.3 1128.0L600.1 1118.2M614.3 1118.1L624.1 1127.9M614.3 1127.9L624.1 1118.1M638.3 1118.0L648.1 1127.8M638.3 1127.8L648.1 1118.0M662.3 1117.8L672.1 1127.7M662.3 1127.7L672.1 1117.8M686.4 1117.7L696.1 1127.5M686.4 1127.5L696.1 1117.7M710.4 1117.6L720.2 1127.4M710.4 1127.4L720.2 1117.6M734.4 1117.5L744.2 1127.3M734.4 1127.3L744.2 1117.5M758.4 1117.3L768.2 1127.2M758.4 1127.2L768.2 1117.3M782.4 1117.2L792.2 1127.0M782.4 1127.0L792.2 1117.2M806.4 1117.1L816.2 1126.9M806.4 1126.9L816.2 1117.1M830.4 1117.0L840.2 1126.8M830.4 1126.8L840.2 1117.0M854.4 1116.8L864.2 1126.7M854.4 1126.7L864.2 1116.8M878.4 1116.7L888.2 1126.5M878.4 1126.5L888.2 1116.7M902.4 1116.6L912.2 1126.4M902.4 1126.4L912.2 1116.6M926.5 1116.6L936.3 1126.4M926.5 1126.4L936.3 1116.6M950.5 1116.6L960.3 1126.4M950.5 1126.4L960.3 1116.6M974.5 1116.6L984.3 1126.4M974.5 1126.4L984.3 1116.6M998.5 1116.6L1008.3 1126.4M998.5 1126.4L1008.3 1116.6M1022.5 1116.6L1032.3 1126.4M1022.5 1126.4L1032.3 1116.6M1046.5 1116.6L1056.3 1126.4M1046.5 1126.4L1056.3 1116.6" stroke="#7E2F8E" stroke-width="1.5" fill="none"/>
<path d="M91.0 703.9V1198.9H1051.4M91.0 1198.9V1188.9M211.1 1198.9V1188.9M331.1 1198.9V1188.9M451.2 1198.9V1188.9M571.2 1198.9V1188.9M691.2 1198.9V1188.9M811.3 1198.9V1188.9M931.4 1198.9V1188.9M1051.4 1198.9V1188.9M91.0 1128.4H101.2M91.0 986.9H101.2M91.0 845.4H101.2M91.0 703.9H101.2" stroke="#262626" stroke-width="1.1" fill="none"/>
<text x="37.3" y="714.5" font-size="24.15" text-anchor="start">1.2</text>
<text x="36.8" y="856.4" font-size="24.15" text-anchor="start">0.8</text>
<text x="36.8" y="998.6" font-size="24.15" text-anchor="start">0.4</text>
<text x="48.4" y="1140.2" font-size="24.15" text-anchor="start">0</text>
<text x="90.4" y="1229.5" font-size="24.15" text-anchor="middle">0</text>
<path d="M335.15 1212.2V1229.7H332.85V1217.0Q331.2 1218.5 328.2 1218.9V1216.7Q331.5 1215.8 333.5 1212.2Z" fill="#000"/>
<text x="570.6" y="1229.5" font-size="24.15" text-anchor="middle">2</text>
<text x="810.7" y="1229.5" font-size="24.15" text-anchor="middle">3</text>
<text x="1050.8" y="1229.5" font-size="24.15" text-anchor="middle">4</text>
<text x="569.8" y="1255.4" font-size="24.15" text-anchor="middle">Scan range (GHz)</text>
<text transform="translate(17.35 1207) rotate(-90)" font-size="24.15">Difference between fitted and true signal (GHz)</text>
<text x="10.9" y="681.9" font-size="34.5" text-anchor="start">b</text>
<text x="273.0" y="654.5" font-size="24.15" text-anchor="start">Double peak</text>
<text x="273.0" y="684.5" font-size="24.15" text-anchor="start">Freq points = 100, repetition = 100, SNR = 20</text>
<text x="273.0" y="714.5" font-size="24.15" text-anchor="start">L1: amplitude = 0.625, shift = 5GHz, FWHM = 0.63GHz</text>
<text x="273.0" y="744.5" font-size="24.15" text-anchor="start">L2: amplitude = 0.5, shift = 5.4GHz, FWHM = 0.63GHz</text>
<path d="M907.8 664.3H964.2" stroke="#0072BD" stroke-width="1.1"/>
<path d="M936.20 655.90V672.70M930.70 655.90H941.70M930.70 672.70H941.70" stroke="#0072BD" stroke-width="1.1" fill="none"/>
<path d="M932.00 660.10L940.40 668.50M932.00 668.50L940.40 660.10" stroke="#0072BD" stroke-width="1.6" fill="none"/>
<text x="968.2" y="671.6" font-size="17" textLength="66.0" lengthAdjust="spacingAndGlyphs">L1 width</text>
<path d="M907.8 687.1H964.2" stroke="#D95319" stroke-width="1.1"/>
<path d="M936.20 678.70V695.50M930.70 678.70H941.70M930.70 695.50H941.70" stroke="#D95319" stroke-width="1.1" fill="none"/>
<path d="M932.00 682.90L940.40 691.30M932.00 691.30L940.40 682.90" stroke="#D95319" stroke-width="1.6" fill="none"/>
<text x="968.2" y="694.4" font-size="17" textLength="57.0" lengthAdjust="spacingAndGlyphs">L1 shift</text>
<path d="M907.8 709.9H964.2" stroke="#EDB120" stroke-width="1.1" stroke-dasharray="14.5 8"/>
<path d="M936.20 701.50V718.30M930.70 701.50H941.70M930.70 718.30H941.70" stroke="#EDB120" stroke-width="1.1" fill="none"/>
<path d="M932.00 705.70L940.40 714.10M932.00 714.10L940.40 705.70" stroke="#EDB120" stroke-width="1.6" fill="none"/>
<text x="968.2" y="717.1" font-size="17" textLength="66.0" lengthAdjust="spacingAndGlyphs">L2 width</text>
<path d="M907.8 732.7H964.2" stroke="#7E2F8E" stroke-width="1.1" stroke-dasharray="14.5 8"/>
<path d="M936.20 724.30V741.10M930.70 724.30H941.70M930.70 741.10H941.70" stroke="#7E2F8E" stroke-width="1.1" fill="none"/>
<path d="M932.00 728.50L940.40 736.90M932.00 736.90L940.40 728.50" stroke="#7E2F8E" stroke-width="1.6" fill="none"/>
<text x="968.2" y="739.9" font-size="17" textLength="57.0" lengthAdjust="spacingAndGlyphs">L2 shift</text>
</svg>
</body></html>
